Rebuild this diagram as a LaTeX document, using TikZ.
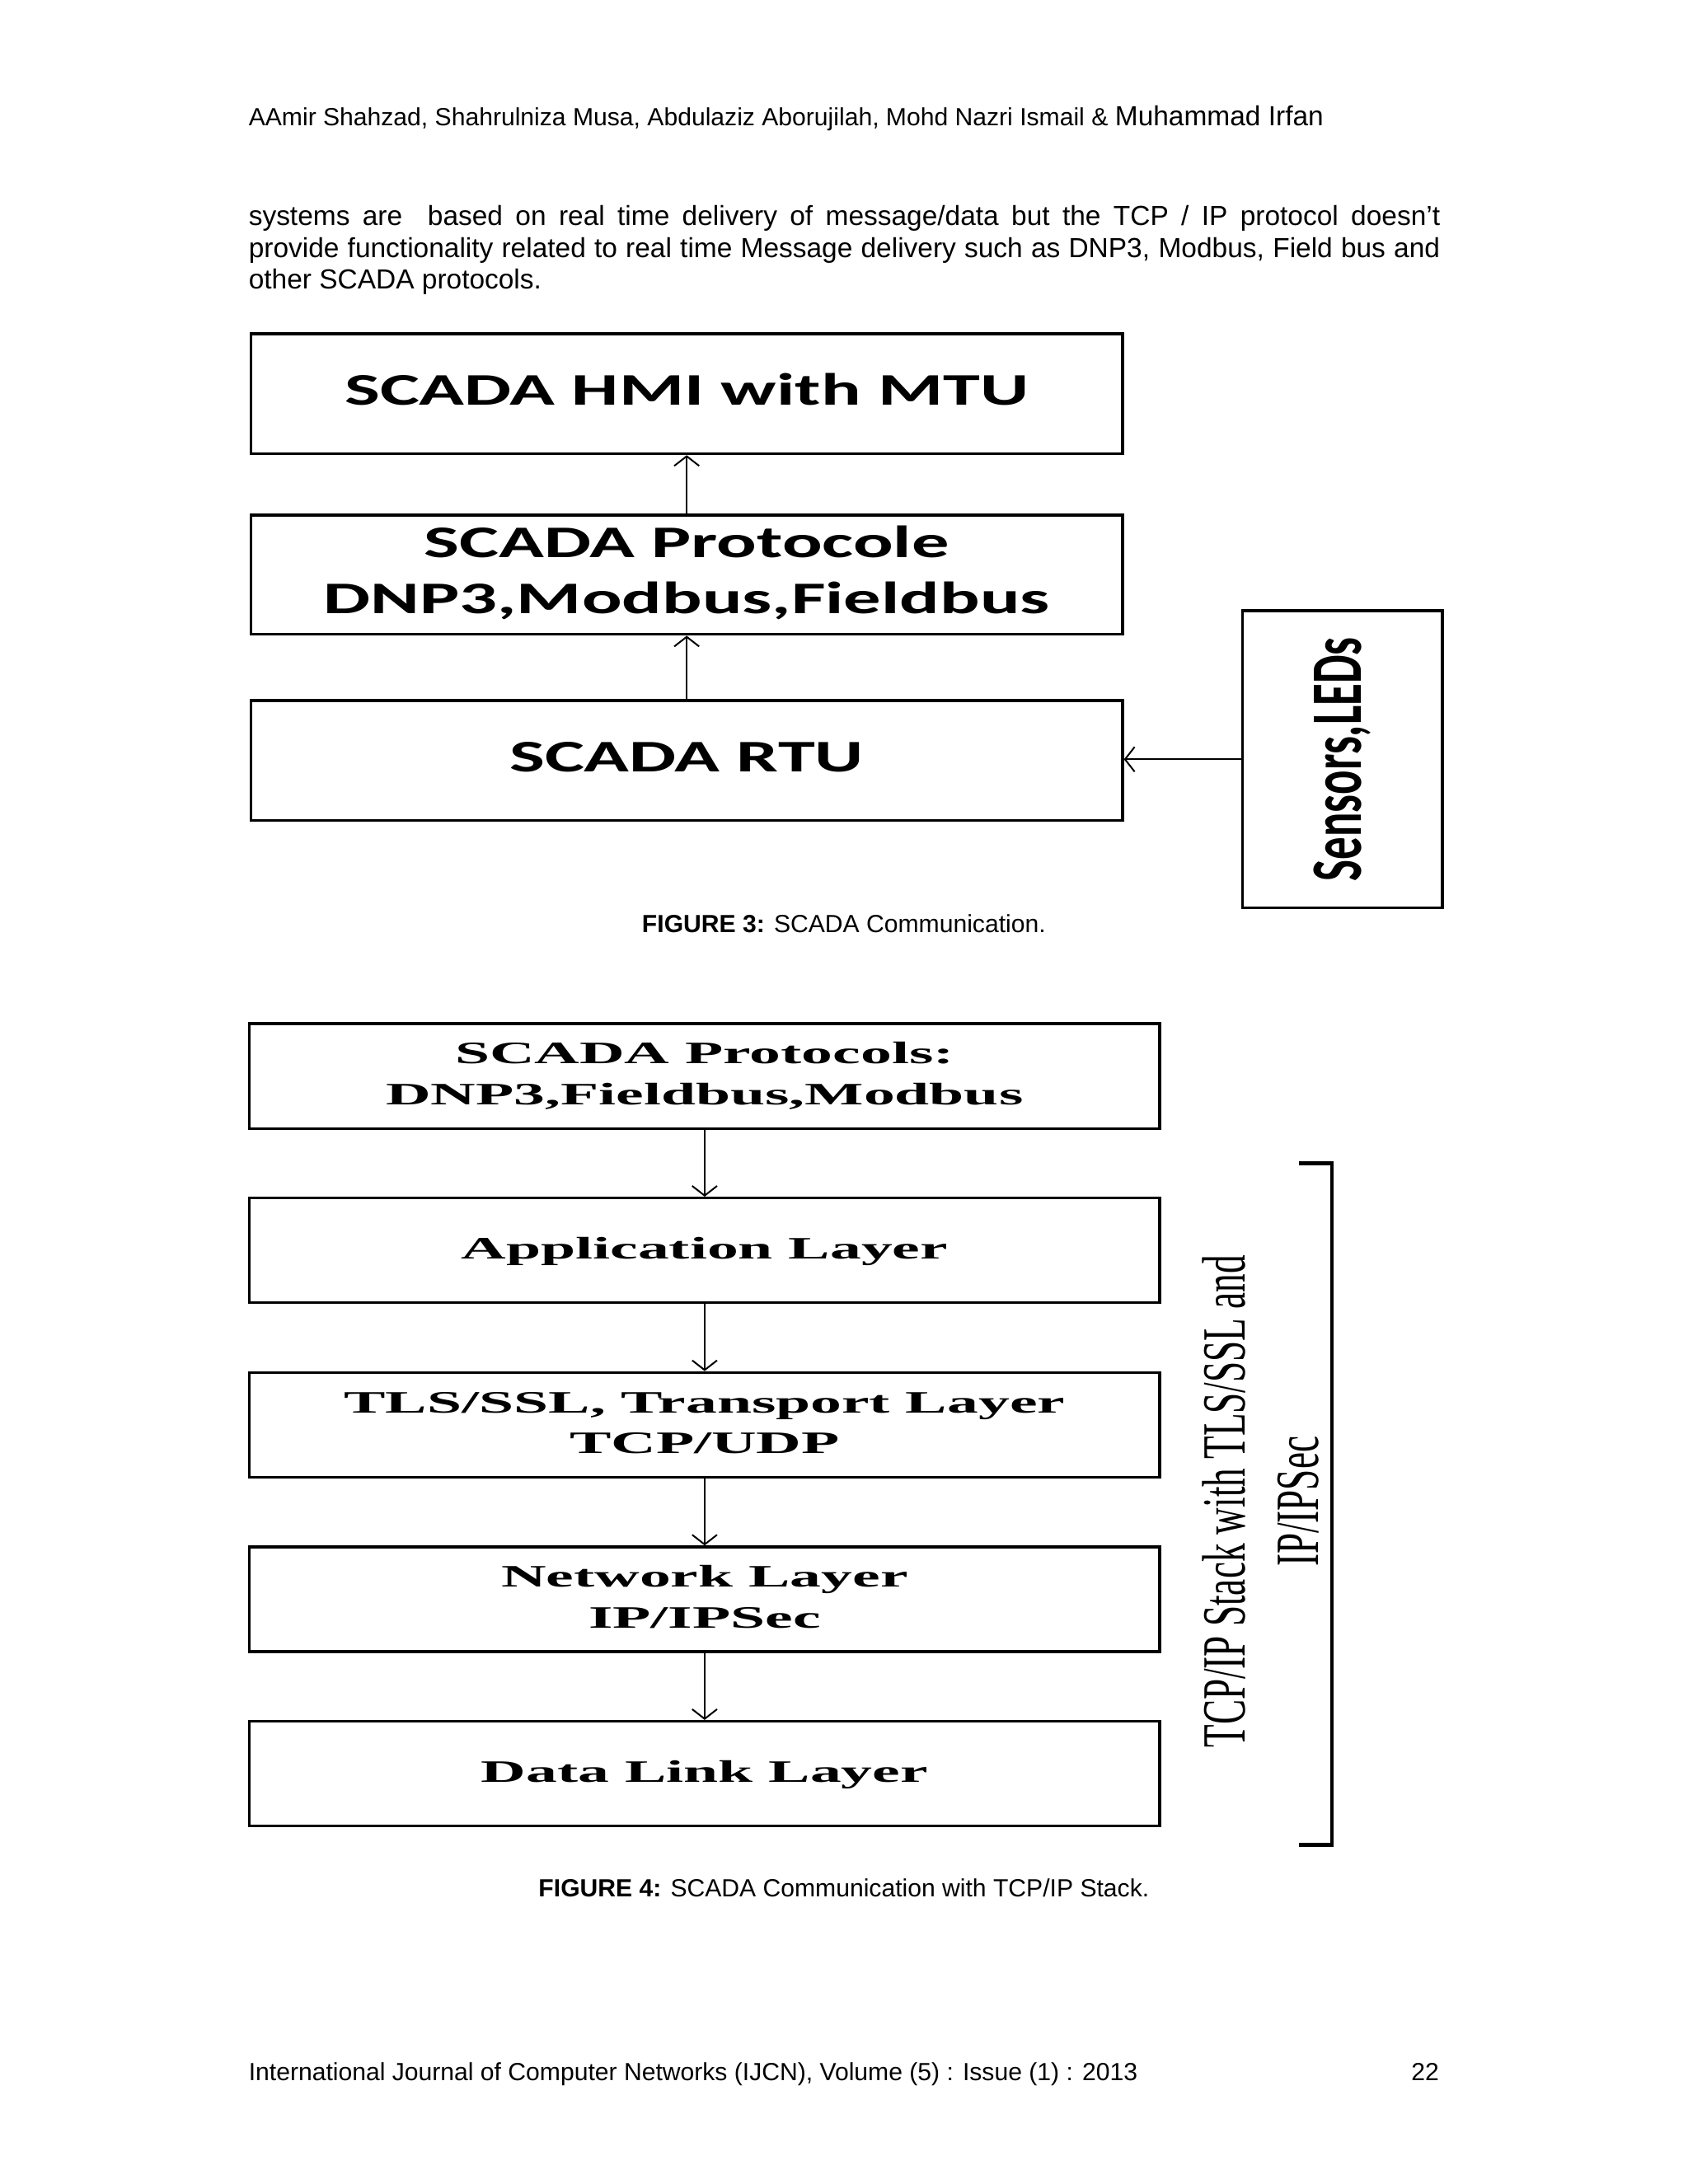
\documentclass[tikz,border=0pt]{standalone}
\usepackage{fontspec}
\setmainfont{Liberation Sans}
\newfontfamily\carlito{Carlito}
\newfontfamily\tnr{Liberation Serif}
\usetikzlibrary{arrows.meta}
\newcommand{\figthree}[1]{\scalebox{1.65}[1]{\carlito\bfseries\fontsize{16.4}{20.25}\selectfont\begin{tabular}{@{}c@{}}#1\end{tabular}}}
\newcommand{\figfour}[1]{\scalebox{2}[1]{\tnr\bfseries\fontsize{11.3}{14.75}\selectfont\begin{tabular}{@{}c@{}}#1\end{tabular}}}
\begin{document}
\begin{tikzpicture}[x=0.5pt,y=-0.5pt,
  txt/.style={inner sep=0pt, font=\fontsize{10}{12}\selectfont},
  small/.style={inner sep=0pt, font=\fontsize{9}{11}\selectfont},
  fthreebox/.style={draw, line width=1.1pt, inner sep=0pt, fill=white},
  ffourbox/.style={draw, line width=1pt, inner sep=0pt, fill=white, minimum width=330pt, minimum height=38pt},
  arr/.style={line width=0.6pt, -{Straight Barb[length=3.5pt,width=9pt]}},
  ]
\useasboundingbox (0,0) rectangle (1224,1584);
\fill[white] (0,0) rectangle (1224,1584);

% header and paragraph
\node[small, anchor=base west] (hdr) at (180,91) {AAmir Shahzad, Shahrulniza Musa, Abdulaziz Aborujilah, Mohd Nazri Ismail \& {\fontsize{10}{12}\selectfont Muhammad Irfan}};
\node[txt, anchor=base west] (p1) at (180,163.5) {\makebox[432pt][s]{systems are\ \ based on real time delivery of message/data but the TCP / IP protocol doesn’t}};
\node[txt, anchor=base west] (p2) at (180,186.5) {\makebox[432pt][s]{provide functionality related to real time Message delivery such as DNP3, Modbus, Field bus and}};
\node[txt, anchor=base west] (p3) at (180,209.5) {other SCADA protocols.};

% Figure 3
\node[fthreebox, minimum width=316pt, minimum height=43.5pt] (hmi) at (498,285.5) {\figthree{SCADA HMI with MTU}};
\node[fthreebox, minimum width=316pt, minimum height=43.25pt] (proto) at (498,416.75) {\figthree{SCADA Protocole\\DNP3,Modbus,Fieldbus}};
\node[fthreebox, minimum width=316pt, minimum height=43.5pt] (rtu) at (498,551.5) {\figthree{SCADA RTU}};
\node[fthreebox, minimum width=72.5pt, minimum height=107.7pt] (sens) at (973.5,550.7) {\scalebox{1.6}[1]{\rotatebox{90}{\carlito\bfseries\fontsize{16.4}{20}\selectfont Sensors,LEDs}}};
\draw[arr] (rtu.north) -- (proto.south);
\draw[arr] (proto.north) -- (hmi.south);
\draw[arr] (sens.west) -- (sens.west -| rtu.east);
\node[small, anchor=base] (cap3) at (612,676.6) {\textbf{FIGURE 3:} SCADA Communication.};

% Figure 4
\node[ffourbox] (scp) at (511,780.4) {\figfour{SCADA Protocols:\\DNP3,Fieldbus,Modbus}};
\node[ffourbox] (app) at (511,906.9) {\figfour{Application Layer}};
\node[ffourbox] (tls) at (511,1033.4) {\figfour{TLS/SSL, Transport Layer\\TCP/UDP}};
\node[ffourbox] (net) at (511,1159.9) {\figfour{Network Layer\\IP/IPSec}};
\node[ffourbox] (dll) at (511,1286.4) {\figfour{Data Link Layer}};
\draw[arr] (scp.south) -- (app.north);
\draw[arr] (app.south) -- (tls.north);
\draw[arr] (tls.south) -- (net.north);
\draw[arr] (net.south) -- (dll.north);

\coordinate (bt) at (942,843.7);
\coordinate (bb) at (942,1338);
\draw[line width=1.3pt] (bt) -- ++(24,0) |- (bb);
\node[inner sep=0pt] (stack) at (919,1089) {\scalebox{1.65}[1]{\rotatebox{90}{\tnr\fontsize{13.5}{16.1}\selectfont\begin{tabular}{@{}c@{}}TCP/IP Stack with TLS/SSL and\\IP/IPSec\end{tabular}}}};
\node[small, anchor=base] (cap4) at (612,1375.5) {\textbf{FIGURE 4:} SCADA Communication with TCP/IP Stack.};

% footer
\node[small, anchor=base west] (foot) at (180,1509) {International Journal of Computer Networks (IJCN), Volume (5) : Issue (1) : 2013};
\node[small, anchor=base east] (pg) at (1044,1509) {22};
\end{tikzpicture}
\end{document}
